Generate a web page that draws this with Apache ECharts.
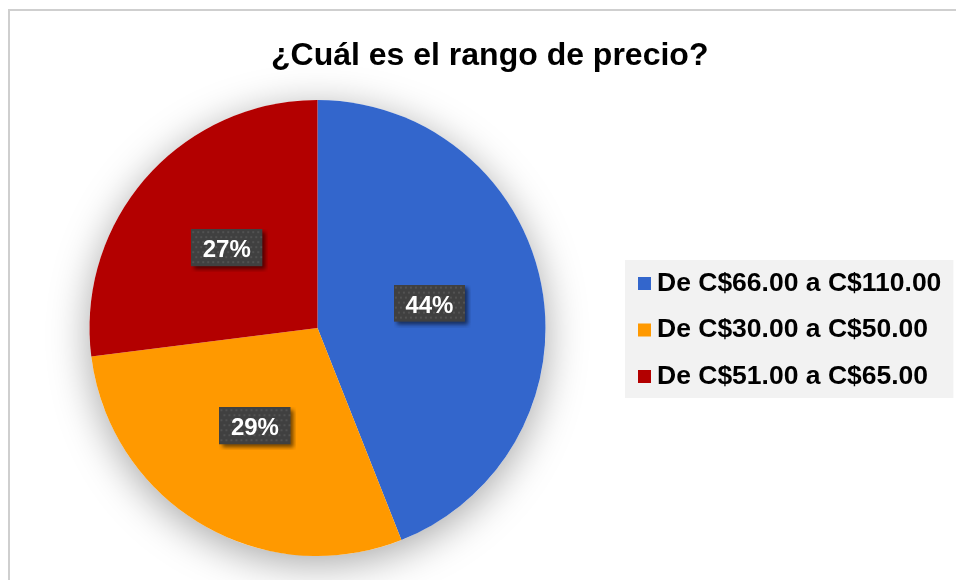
<!DOCTYPE html>
<html>
<head>
<meta charset="utf-8">
<script src="https://cdn.jsdelivr.net/npm/echarts@6/dist/echarts.min.js"></script>
<style>html,body{margin:0;padding:0;background:#fff;}#c{width:956px;height:580px;}</style>
</head>
<body>
<div id="c"></div>
<script>
const titleText = '¿Cuál es el rango de precio?';
const categories = ['De C$66.00 a C$110.00', 'De C$30.00 a C$50.00', 'De C$51.00 a C$65.00'];
const values = [44, 29, 27];
const colors = ['#3366CC', '#FF9900', '#B30000'];

// label box: 71x37 dark patterned box with a soft drop shadow (drawn into an image)
function makePattern(w, h, sh) {
  const cv = document.createElement('canvas');
  cv.width = w + sh; cv.height = h + sh;
  const ctx = cv.getContext('2d');
  ctx.save();
  ctx.shadowColor = 'rgba(0,0,0,0.55)';
  ctx.shadowBlur = 4;
  ctx.shadowOffsetX = 3;
  ctx.shadowOffsetY = 3;
  ctx.fillStyle = '#404040';
  ctx.fillRect(0, 0, w, h);
  ctx.restore();
  ctx.fillStyle = '#525252';
  for (let y = 2, r = 0; y < h - 1; y += 5, r++) {
    for (let x = (r % 2 ? 4 : 1); x < w - 1; x += 5) {
      ctx.fillRect(x, y, 2, 2);
    }
  }
  return cv;
}
const pattern = makePattern(71, 37, 6);

const chart = echarts.init(document.getElementById('c'), null, {renderer: 'canvas'});
const font = 'Liberation Sans, Arial, Helvetica, sans-serif';
chart.setOption({
  animation: false,
  backgroundColor: '#ffffff',
  title: {
    text: titleText,
    left: 266,
    top: 35,
    textStyle: {fontFamily: font, fontWeight: 'bold', fontSize: 32, color: '#000'}
  },
  legend: {
    orient: 'vertical',
    left: 625,
    top: 260,
    padding: [10, 12, 8, 13],
    backgroundColor: '#f2f2f2',
    itemWidth: 13,
    itemHeight: 13,
    itemGap: 19.5,
    icon: 'rect',
    data: categories,
    textStyle: {fontFamily: font, fontWeight: 'bold', fontSize: 26.5, lineHeight: 26, color: '#000', padding: [0, 0, 0, 1]}
  },
  graphic: [{
    type: 'rect',
    z: -10,
    shape: {x: 9, y: 10, width: 1200, height: 1200},
    style: {fill: 'none', stroke: '#cfcfcf', lineWidth: 2}
  }],
  series: [{
    type: 'pie',
    silent: true,
    z: 1,
    center: [317.5, 328],
    radius: 228,
    label: {show: false},
    labelLine: {show: false},
    itemStyle: {color: '#ffffff', shadowBlur: 40, shadowColor: 'rgba(0,0,0,0.35)', shadowOffsetY: 8},
    data: [{value: 1, name: '_shadow'}],
    legendHoverLink: false
  }, {
    type: 'pie',
    z: 2,
    center: [317.5, 328],
    radius: 228,
    startAngle: 90,
    clockwise: true,
    avoidLabelOverlap: false,
    itemStyle: {borderWidth: 0},
    label: {
      show: true,
      position: 'inside',
      formatter: '{d}%',
      fontFamily: font,
      fontWeight: 'bold',
      fontSize: 24,
      lineHeight: 25,
      color: '#ffffff',
      backgroundColor: {image: pattern},
      padding: [6, 17.5, 12, 11.5]
    },
    emphasis: {disabled: true},
    data: categories.map((c, i) => ({name: c, value: values[i], itemStyle: {color: colors[i]}}))
  }]
});
</script>
</body>
</html>
